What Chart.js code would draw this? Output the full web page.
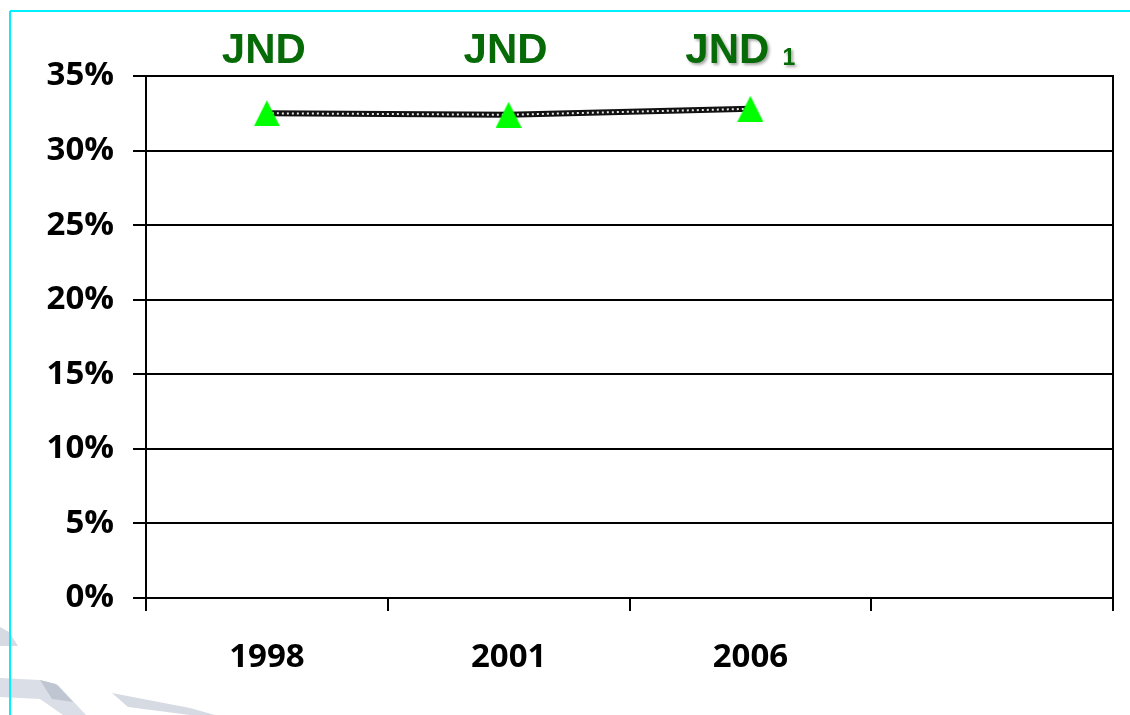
<!DOCTYPE html>
<html>
<head>
<meta charset="utf-8">
<title>JND share 1998–2006</title>
<script src="https://cdn.jsdelivr.net/npm/chart.js@4.4.1/dist/chart.umd.min.js"></script>
<style>
  html, body { margin: 0; padding: 0; background: #ffffff; }
  #wrap { position: relative; width: 1130px; height: 715px; overflow: hidden; background: #ffffff; }
  #decor { position: absolute; left: 0; top: 0; }
  #chart { position: absolute; left: 0; top: 0; }
</style>
</head>
<body>
<div id="wrap">
  <svg id="decor" width="1130" height="715" xmlns="http://www.w3.org/2000/svg">
    <!-- slide background swooshes, bottom left -->
    <polygon points="0,627 9,632 18,646 0,646" fill="#d6dbe3"/>
    <polygon points="0,678 40,680 58,685 86,715 63,715 40,699 0,697" fill="#dadee6"/>
    <polygon points="40,680 56,684 73,702 52,699" fill="#bfc6d1"/>
    <polygon points="112,693 190,708 215,715 190,715 128,707" fill="#d6dbe3"/>
    <!-- slide frame -->
    <line x1="10" y1="11" x2="1130" y2="11" stroke="#00f0ff" stroke-width="2"/>
    <line x1="10" y1="11" x2="10" y2="715" stroke="#00f0ff" stroke-width="2"/>
  </svg>
  <canvas id="chart" width="1130" height="715"></canvas>
</div>
<script>
// Survey years along the category axis (last slot left empty)
const years = ['1998', '2001', '2006', ''];
// Share per survey year, in percent
const shares = [32.5, 32.4, 32.8, null];
// Notes written above each year's point
const noteText = ['JND', 'JND', 'JND'];
const noteSub = ['', '', '1'];
// Value axis range
const yMin = 0, yMax = 35, yStep = 5;

const GREEN_TEXT = '#066a06';
const TICK_FONT = { family: "'Open Sans', 'Liberation Sans', sans-serif", size: 33, weight: 'bold' };

// Lime triangle marker
function makeTriangle(w, h) {
  const c = document.createElement('canvas');
  c.width = w; c.height = h;
  const g = c.getContext('2d');
  g.fillStyle = '#00ff00';
  g.beginPath();
  g.moveTo(w / 2, 0);
  g.lineTo(w, h);
  g.lineTo(0, h);
  g.closePath();
  g.fill();
  return c;
}

// Right edge of the plot frame
const frameRight = {
  id: 'frameRight',
  afterDraw(chart) {
    const { ctx, chartArea } = chart;
    ctx.save();
    ctx.strokeStyle = '#000';
    ctx.lineWidth = 2;
    ctx.beginPath();
    ctx.moveTo(chartArea.right, chartArea.top - 1);
    ctx.lineTo(chartArea.right, chartArea.bottom);
    ctx.stroke();
    ctx.restore();
  }
};

// "JND" notes above each point
const pointNotes = {
  id: 'pointNotes',
  afterDraw(chart) {
    const { ctx } = chart;
    const xs = chart.scales.x;
    ctx.save();
    ctx.textBaseline = 'alphabetic';
    ctx.fillStyle = GREEN_TEXT;
    noteText.forEach((t, i) => {
      const px = xs.getPixelForValue(i);
      const sub = noteSub[i];
      ctx.font = "bold 42px 'Liberation Sans', Arial, sans-serif";
      const mainW = ctx.measureText(t).width;
      const cx = px - 3 - (sub ? 20 : 0);
      if (sub) {
        ctx.shadowColor = 'rgba(0,0,0,0.35)';
        ctx.shadowBlur = 3;
        ctx.shadowOffsetX = 2;
        ctx.shadowOffsetY = 2;
      } else {
        ctx.shadowColor = 'rgba(0,0,0,0)';
      }
      ctx.textAlign = 'center';
      ctx.fillText(t, cx, 63);
      if (sub) {
        ctx.textAlign = 'left';
        ctx.font = "bold 23px 'Liberation Sans', Arial, sans-serif";
        ctx.fillText(sub, cx + mainW / 2 + 13, 65);
      }
    });
    ctx.restore();
  }
};

function build() {
  const canvas = document.getElementById('chart');
  const ctx = canvas.getContext('2d');
  const noPoints = { pointRadius: 0, pointHoverRadius: 0 };
  new Chart(ctx, {
    type: 'line',
    data: {
      labels: years,
      datasets: [
        // markers on top
        {
          data: shares,
          showLine: false,
          pointStyle: makeTriangle(26, 26),
          pointRadius: 13,
          pointHoverRadius: 13,
          order: 0
        },
        // light links of the chain line
        Object.assign({
          data: shares,
          borderColor: '#e6e6e6',
          borderWidth: 2,
          borderDash: [2, 3],
          tension: 0,
          order: 1
        }, noPoints),
        // dark body of the chain line
        Object.assign({
          data: shares,
          borderColor: '#111111',
          borderWidth: 6,
          tension: 0,
          order: 2
        }, noPoints)
      ]
    },
    options: {
      responsive: false,
      devicePixelRatio: 1,
      animation: false,
      events: [],
      layout: { padding: { left: 0, top: 76, right: 17, bottom: 0 } },
      plugins: {
        legend: { display: false },
        tooltip: { enabled: false },
        title: { display: false }
      },
      scales: {
        x: {
          type: 'category',
          offset: true,
          grid: {
            display: true,
            offset: true,
            drawOnChartArea: false,
            drawTicks: true,
            tickLength: 13,
            color: '#000',
            lineWidth: 2
          },
          border: { display: true, color: '#000', width: 2 },
          ticks: {
            color: '#000',
            font: TICK_FONT,
            padding: 27,
            maxRotation: 0,
            autoSkip: false
          },
          afterFit(scale) { scale.height = 117; }
        },
        y: {
          min: yMin,
          max: yMax,
          grid: {
            color: '#000',
            lineWidth: 2,
            drawTicks: true,
            tickLength: 13
          },
          border: { display: true, color: '#000', width: 2 },
          ticks: {
            stepSize: yStep,
            color: '#000',
            font: TICK_FONT,
            padding: 19,
            callback: v => v + '%'
          },
          afterFit(scale) { scale.width = 146; }
        }
      }
    },
    plugins: [frameRight, pointNotes]
  });
}

Promise.all([
  document.fonts.load("bold 33px 'Open Sans'"),
  document.fonts.load("bold 42px 'Liberation Sans'")
]).then(build, build);
</script>
</body>
</html>
